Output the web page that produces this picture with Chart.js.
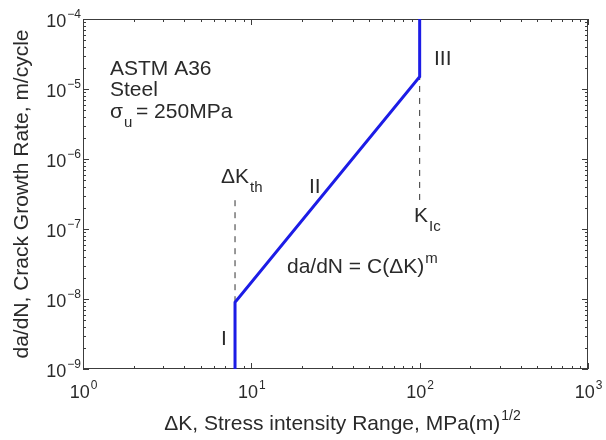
<!DOCTYPE html>
<html>
<head>
<meta charset="utf-8">
<script src="https://cdn.jsdelivr.net/npm/chart.js@4"></script>
<style>
  html, body { margin: 0; padding: 0; background: #fff; }
  canvas { display: block; }
</style>
</head>
<body>
<canvas id="crackChart" width="606" height="440"></canvas>
<script>
// Fatigue crack growth curve, ASTM A36 steel
const regimeK = [8, 8, 100, 100];
const regimeRate = [1e-9, 9e-9, 1.5e-5, 1e-4];

// Dashed markers for threshold and fracture toughness
const thresholdK = [8, 8];
const thresholdRate = [9e-9, 3e-7];
const toughnessK = [100, 100];
const toughnessRate = [2.6e-7, 1.5e-5];

// Axis limits and decade tick labels
const kTicks = [1, 10, 100, 1000];
const rateTicks = [1e-9, 1e-8, 1e-7, 1e-6, 1e-5, 1e-4];

const FONT = '"Liberation Sans", Arial, sans-serif';
const TEXT_COLOR = '#2a2a2a';
const AXIS_COLOR = '#3c3c3c';

const toPoints = (xs, ys) => xs.map((x, i) => ({ x: x, y: ys[i] }));

// Text with a raised (sup) or lowered (sub) part
function drawScript(ctx, base, extra, x, y, size, mode, align, smallSize) {
    const small = smallSize || Math.round(size * 0.7);
    ctx.font = size + 'px ' + FONT;
    const wBase = ctx.measureText(base).width;
    ctx.font = small + 'px ' + FONT;
    const wExtra = ctx.measureText(extra).width;
    let left = x;
    if (align === 'center') left = x - (wBase + wExtra) / 2;
    if (align === 'right') left = x - (wBase + wExtra);
    ctx.textAlign = 'left';
    ctx.textBaseline = 'alphabetic';
    ctx.font = size + 'px ' + FONT;
    ctx.fillText(base, left, y);
    ctx.font = small + 'px ' + FONT;
    const dy = mode === 'sup' ? -size * 0.5 : size * 0.42;
    ctx.fillText(extra, left + wBase + 1, y + dy);
}

const expLabel = v => {
    const e = Math.round(Math.log10(v));
    return e < 0 ? '\u2212' + (-e) : String(e);
};

// Box, inward ticks, tick labels, axis titles and annotations
const frameAndText = {
    id: 'frameAndText',
    beforeDatasetsDraw(chart) {
        const { ctx, chartArea: a, scales } = chart;
        const xs = scales.x, ys = scales.y;
        ctx.save();
        ctx.strokeStyle = AXIS_COLOR;
        ctx.lineWidth = 1;
        ctx.strokeRect(a.left + 0.5, a.top + 0.5, a.right - a.left - 1, a.bottom - a.top - 1);

        ctx.beginPath();
        // x ticks (major + minor) on bottom and top
        for (let d = 0; d < kTicks.length; d++) {
            const dec = kTicks[d];
            for (let m = 1; m <= 9; m++) {
                const v = dec * m;
                if (v > kTicks[kTicks.length - 1]) break;
                const px = Math.round(xs.getPixelForValue(v)) + 0.5;
                const len = m === 1 ? 6 : 3;
                ctx.moveTo(px, a.bottom); ctx.lineTo(px, a.bottom - len);
                ctx.moveTo(px, a.top); ctx.lineTo(px, a.top + len);
            }
        }
        // y ticks (major + minor) on left and right
        for (let d = 0; d < rateTicks.length; d++) {
            const dec = rateTicks[d];
            for (let m = 1; m <= 9; m++) {
                const v = dec * m;
                if (v > rateTicks[rateTicks.length - 1] * 1.0001) break;
                const py = Math.round(ys.getPixelForValue(v)) + 0.5;
                const len = m === 1 ? 6 : 3;
                ctx.moveTo(a.left, py); ctx.lineTo(a.left + len, py);
                ctx.moveTo(a.right, py); ctx.lineTo(a.right - len, py);
            }
        }
        ctx.stroke();

        ctx.fillStyle = TEXT_COLOR;
        kTicks.forEach(v => {
            drawScript(ctx, '10', expLabel(v), xs.getPixelForValue(v), a.bottom + 29, 18, 'sup', 'center', 12);
        });
        rateTicks.forEach(v => {
            drawScript(ctx, '10', expLabel(v), a.left - 3, ys.getPixelForValue(v) + 8, 18, 'sup', 'right', 12);
        });

        // axis titles
        drawScript(ctx, '\u0394K, Stress intensity Range, MPa(m)', '1/2', 342, 430, 21, 'sup', 'center', 14);
        ctx.save();
        ctx.translate(28, (a.top + a.bottom) / 2);
        ctx.rotate(-Math.PI / 2);
        ctx.font = '21px ' + FONT;
        ctx.textAlign = 'center';
        ctx.textBaseline = 'alphabetic';
        ctx.fillText('da/dN, Crack Growth Rate, m/cycle', 0, 0);
        ctx.restore();

        // annotations
        ctx.font = '21px ' + FONT;
        ctx.textAlign = 'left';
        ctx.fillText('ASTM A36', 110, 75);
        ctx.fillText('Steel', 110, 96);
        drawScript(ctx, '\u03c3', 'u', 110, 118, 21, 'sub', 'left', 15);
        ctx.font = '21px ' + FONT;
        ctx.fillText('= 250MPa', 136, 118);

        drawScript(ctx, '\u0394K', 'th', 221, 183, 21, 'sub', 'left', 15);
        drawScript(ctx, 'K', 'Ic', 414, 222, 21, 'sub', 'left', 15);
        drawScript(ctx, 'da/dN = C(\u0394K)', 'm', 287, 273, 21, 'sup', 'left', 15);

        ctx.font = '21px ' + FONT;
        ctx.fillText('I', 221, 345);
        ctx.fillText('II', 309, 193);
        ctx.fillText('III', 434, 65);
        ctx.restore();
    }
};

new Chart(document.getElementById('crackChart'), {
    type: 'line',
    data: {
        datasets: [
            {
                data: toPoints(regimeK, regimeRate),
                borderColor: '#1c1ce6',
                borderWidth: 3,
                pointRadius: 0,
                tension: 0,
                fill: false
            },
            {
                data: toPoints(thresholdK, thresholdRate),
                borderColor: '#333333',
                borderWidth: 1,
                borderDash: [6, 6],
                pointRadius: 0,
                fill: false
            },
            {
                data: toPoints(toughnessK, toughnessRate),
                borderColor: '#333333',
                borderWidth: 1,
                borderDash: [6, 6],
                pointRadius: 0,
                fill: false
            }
        ]
    },
    options: {
        responsive: false,
        animation: false,
        layout: { padding: { left: 83, top: 19, right: 18, bottom: 71 } },
        plugins: {
            legend: { display: false },
            tooltip: { enabled: false }
        },
        scales: {
            x: {
                type: 'logarithmic',
                display: false,
                min: kTicks[0],
                max: kTicks[kTicks.length - 1]
            },
            y: {
                type: 'logarithmic',
                display: false,
                min: rateTicks[0],
                max: rateTicks[rateTicks.length - 1]
            }
        }
    },
    plugins: [frameAndText]
});
</script>
</body>
</html>
